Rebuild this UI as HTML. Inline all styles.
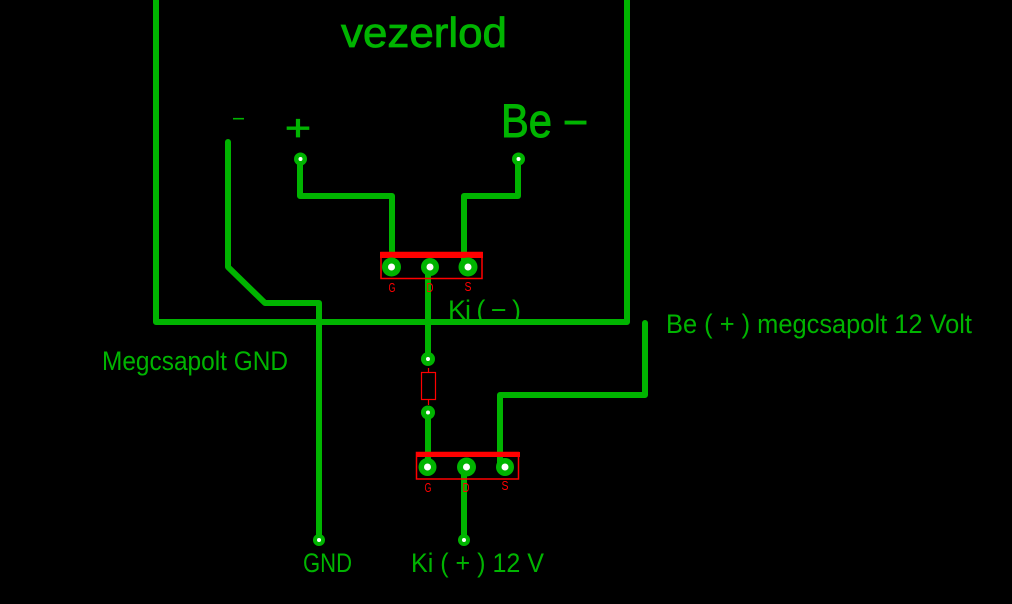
<!DOCTYPE html>
<html><head><meta charset="utf-8"><style>
html,body{margin:0;padding:0;background:#000;width:1012px;height:604px;overflow:hidden}
svg{display:block}
text{font-family:"Liberation Sans",sans-serif;fill:#00b400}
.r{fill:#f00;font-size:13px;text-anchor:middle}
</style></head><body>
<svg width="1012" height="604" viewBox="0 0 1012 604" xmlns="http://www.w3.org/2000/svg">
<rect width="1012" height="604" fill="#000"/>
<g fill="none" stroke="#00b400" stroke-width="6" stroke-linejoin="round" stroke-linecap="round">
<path d="M156 -5V322H627V-5"/>
<path d="M228 142V267L265 303H319V540"/>
<path d="M300 159V196H392V267"/>
<path d="M518 159V196H464V267"/>
<path d="M428 267V359M428 412V467"/>
<path d="M464 467V540"/>
<path d="M500 467V395H645V323"/>
</g>
<g fill="none" stroke="#f00">
<path d="M381 252.500H482V278.500H381Z" stroke-width="1.500"/>
<path d="M416.500 452.500H518.500V479H416.500Z" stroke-width="1.500"/>
<rect x="421.500" y="372.500" width="14" height="27" stroke-width="1.200"/>
<path d="M428.500 368V372M428.500 400V405" stroke-width="1.200"/>
</g>
<rect x="380" y="252" width="103" height="6" fill="#f00"/>
<rect x="416" y="452" width="104" height="5" fill="#f00"/>
<g fill="#00b400">
<circle cx="391.500" cy="267" r="9.500"/><circle cx="430" cy="267" r="9"/><circle cx="468" cy="267" r="9.500"/>
<circle cx="427.500" cy="467" r="9"/><circle cx="466.500" cy="467" r="9.500"/><circle cx="505" cy="467" r="9"/>
<circle cx="428" cy="359" r="7"/><circle cx="428" cy="412.500" r="7"/>
<circle cx="300.500" cy="159" r="6.500"/><circle cx="518.500" cy="159" r="6.500"/>
<circle cx="319" cy="540" r="6"/><circle cx="464" cy="540" r="6"/>
</g>
<g fill="#fff">
<circle cx="391.500" cy="267" r="3.500"/><circle cx="430" cy="267" r="3.500"/><circle cx="468" cy="267" r="3.500"/>
<circle cx="427.500" cy="467" r="3.500"/><circle cx="466.500" cy="467" r="3.500"/><circle cx="505" cy="467" r="3.500"/>
<circle cx="428" cy="359" r="2"/><circle cx="428" cy="412.500" r="2"/>
<circle cx="300.500" cy="159" r="2"/><circle cx="518.500" cy="159" r="2"/>
<circle cx="319" cy="540" r="2"/><circle cx="464" cy="540" r="2"/>
</g>
<text x="341" y="47" font-size="42" stroke="#00b400" stroke-width="0.800" textLength="166" lengthAdjust="spacingAndGlyphs">vezerlod</text>
<text x="501" y="137" font-size="47" stroke="#00b400" stroke-width="1" textLength="51" lengthAdjust="spacingAndGlyphs">Be</text>
<text x="563" y="136" font-size="40" stroke="#00b400" stroke-width="1" textLength="25" lengthAdjust="spacingAndGlyphs">−</text>
<text x="285" y="140" font-size="36" textLength="26" stroke="#00b400" stroke-width="0.800" lengthAdjust="spacingAndGlyphs">+</text>
<text x="231" y="124" font-size="20" textLength="15" lengthAdjust="spacingAndGlyphs">-</text>
<text x="448" y="319" font-size="27" textLength="73" lengthAdjust="spacing">Ki ( − )</text>
<text x="666" y="333" font-size="27" textLength="306" lengthAdjust="spacingAndGlyphs">Be ( + ) megcsapolt 12 Volt</text>
<text x="102" y="370" font-size="27" textLength="186" lengthAdjust="spacingAndGlyphs">Megcsapolt GND</text>
<text x="303" y="572" font-size="27" textLength="49" lengthAdjust="spacingAndGlyphs">GND</text>
<text x="411" y="572" font-size="27" textLength="133" lengthAdjust="spacingAndGlyphs">Ki ( + ) 12 V</text>
<text class="r" x="392" y="292" textLength="7" lengthAdjust="spacingAndGlyphs">G</text><text class="r" x="430" y="292" textLength="7" lengthAdjust="spacingAndGlyphs">D</text><text class="r" x="468" y="291" textLength="7" lengthAdjust="spacingAndGlyphs">S</text>
<text class="r" x="428" y="492" textLength="7" lengthAdjust="spacingAndGlyphs">G</text><text class="r" x="466" y="492" textLength="7" lengthAdjust="spacingAndGlyphs">D</text><text class="r" x="505" y="490" textLength="7" lengthAdjust="spacingAndGlyphs">S</text>
</svg>
</body></html>
